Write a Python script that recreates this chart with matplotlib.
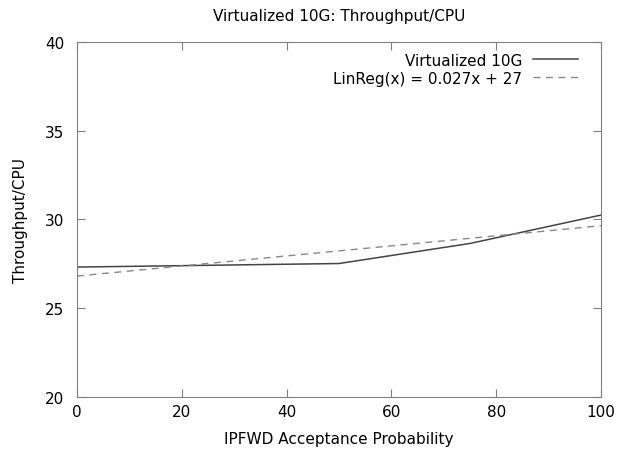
import numpy as np
import matplotlib
matplotlib.use("Agg")
import matplotlib.pyplot as plt

# data
prob = [0, 25, 50, 75, 100]
tput_cpu = [27.32, 27.42, 27.52, 28.65, 30.25]
x_ticks = [0, 20, 40, 60, 80, 100]
y_ticks = [20, 25, 30, 35, 40]

slope, intercept = np.polyfit(prob, tput_cpu, 1)
xfit = np.array([0, 100])

plt.rcParams['font.family'] = 'DejaVu Sans'
fig = plt.figure(figsize=(6.18, 4.56), dpi=100)
ax = fig.add_axes([0.1246, 0.1272, 0.8479, 0.7785])

ax.plot(prob, tput_cpu, color='#444444', lw=1.1, label='Virtualized 10G')
ax.plot(xfit, slope * xfit + intercept, color='#888888', lw=1.0,
        ls=(0, (5, 4)), label='LinReg(x) = 0.027x + 27')

ax.set_xlim(0, 100)
ax.set_ylim(20, 40)
ax.set_xticks(x_ticks)
ax.set_yticks(y_ticks)
ax.tick_params(direction='in', top=True, right=True, length=6,
               color='#808080', labelsize=11)
ax.tick_params(axis='y', pad=9)
ax.tick_params(axis='x', pad=5)
for s in ax.spines.values():
    s.set_color('#808080')

ax.set_xlabel('IPFWD Acceptance Probability', fontsize=11, labelpad=9)
ax.set_ylabel('Throughput/CPU', fontsize=11, labelpad=12)
ax.set_title('Virtualized 10G: Throughput/CPU', fontsize=11, pad=16)

leg = ax.legend(loc='upper right', bbox_to_anchor=(0.977, 1.0),
                frameon=False, markerfirst=False,
                fontsize=11, handlelength=2.95, borderaxespad=0.3,
                labelspacing=0.2, handletextpad=0.7)
for t in leg.get_texts():
    t.set_ha('right')

fig.savefig('out.png', dpi=100)
